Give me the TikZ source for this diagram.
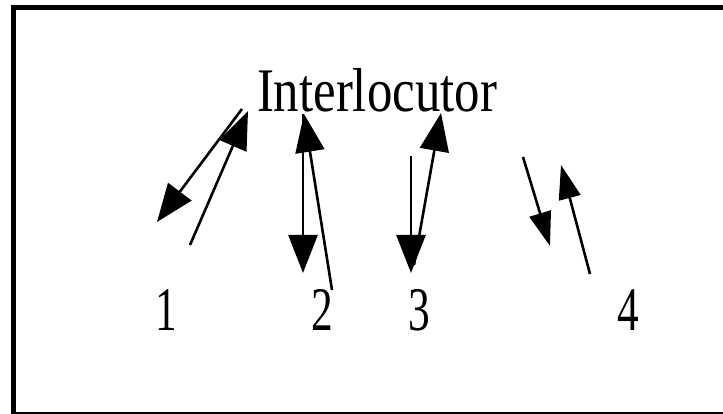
\documentclass[tikz,border=0pt]{standalone}
\usepackage{fontspec}
\setmainfont{Liberation Serif}
\usetikzlibrary{arrows.meta}
\newcommand{\squeeze}[2]{\scalebox{#1}[1]{#2}}
\tikzset{
	talk/.style={line width=2.6pt, -{Triangle[length=38pt,width=29pt]}},
	talksmall/.style={line width=2.6pt, -{Triangle[length=34pt,width=22pt]}},
	label/.style={inner sep=0pt, anchor=base, font=\fontsize{62}{62}\selectfont}
}

\begin{document}
\begin{tikzpicture}[x=1pt,y=-1pt]
	\useasboundingbox (0,0) rectangle (723,414);
	\clip (0,0) rectangle (723,414);
	\draw[line width=5pt] (13.5,7.5) rectangle (760,414.5);
	\node[label] (inter) at (377,112) {\squeeze{0.82}{Interlocutor}};
	\node[label] (p1) at (166,330) {\squeeze{0.7}{1}};
	\node[label] (p2) at (322,330) {\squeeze{0.7}{2}};
	\node[label] (p3) at (419,330) {\squeeze{0.7}{3}};
	\node[label] (p4) at (628,330) {\squeeze{0.7}{4}};
	% ends of the arrows
	\coordinate (a1s) at (242,109);
	\coordinate (a1e) at (157,222);
	\coordinate (b1s) at (190,245);
	\coordinate (b1e) at (248,111);
	\coordinate (a2s) at (303,114);
	\coordinate (a2e) at (303,273);
	\coordinate (b2s) at (332,290);
	\coordinate (b2e) at (304,114);
	\coordinate (a3s) at (411,156);
	\coordinate (a3e) at (411,273);
	\coordinate (b3s) at (414,265);
	\coordinate (b3e) at (441,113);
	\coordinate (a4s) at (523,157);
	\coordinate (a4e) at (550,246);
	\coordinate (b4s) at (590,274);
	\coordinate (b4e) at (561,165);
	\draw[talk] (a1s) -- (a1e);
	\draw[talk] (b1s) -- (b1e);
	\draw[talk] (a2s) -- (a2e);
	\draw[talk] (b2s) -- (b2e);
	\draw[talk] (a3s) -- (a3e);
	\draw[talk] (b3s) -- (b3e);
	\draw[talksmall] (a4s) -- (a4e);
	\draw[talksmall] (b4s) -- (b4e);
\end{tikzpicture}
\end{document}
